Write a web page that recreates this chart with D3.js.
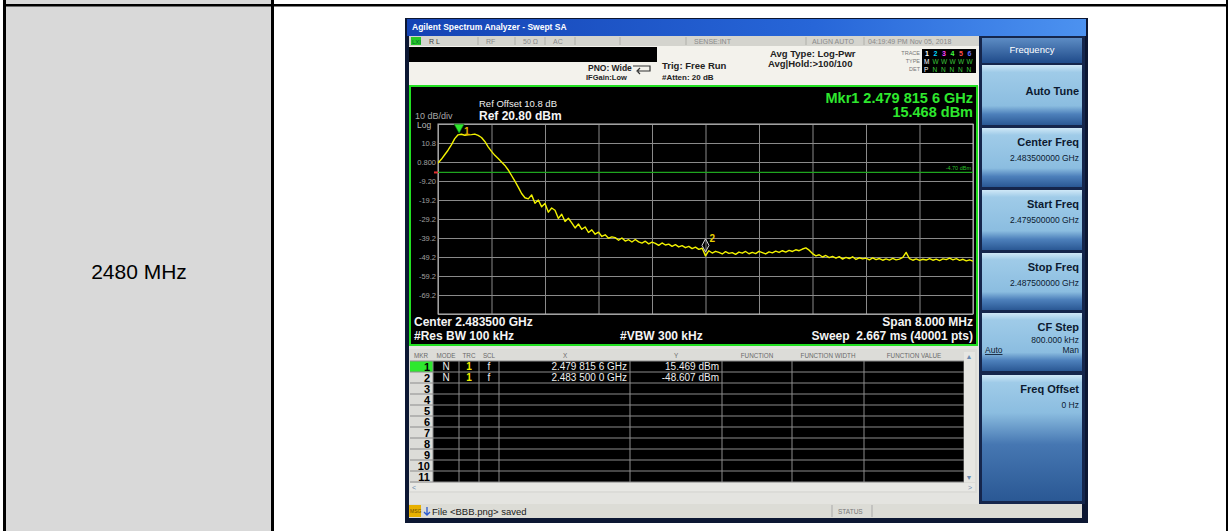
<!DOCTYPE html>
<html><head><meta charset="utf-8">
<script src="https://cdn.jsdelivr.net/npm/d3@7"></script>
<style>body{margin:0;background:#fff}svg{display:block;font-family:"Liberation Sans",Arial,sans-serif}</style>
</head><body><svg id="c" width="1229" height="531"></svg>
<script>
// ---------------- data ----------------
const rowLabel = "2480 MHz";
const startFreqGHz = 2.4795, stopFreqGHz = 2.4875;
const refLevelDbm = 20.8, bottomLevelDbm = -79.2;
const yTickValues = [10.8, 0.8, -9.2, -19.2, -29.2, -39.2, -49.2, -59.2, -69.2];
const yTickLabels = ["10.8", "0.800", "-9.20", "-19.2", "-29.2", "-39.2", "-49.2", "-59.2", "-69.2"];
const yGridValues = [20.8, 10.8, 0.8, -9.2, -19.2, -29.2, -39.2, -49.2, -59.2, -69.2, -79.2];
const xGridFreqsGHz = [2.4795, 2.4803, 2.4811, 2.4819, 2.4827, 2.4835, 2.4843, 2.4851, 2.4859, 2.4867, 2.4875];
const displayLineDbm = -4.70;
const traceStepMHz = 0.05;
const traceDbm = [
  0.3, 2.2, 4.6, 7.0, 9.8, 13.1, 15.1, 15.4, 14.9, 15.1,
  15.2, 15.5, 14.8, 13.7, 11.6, 8.8, 6.4, 4.3, 2.6, 0.8,
  -1.0, -3.4, -6.3, -9.3, -12.4, -15.8, -18.0, -18.6, -16.5, -20.9,
  -19.2, -22.8, -21.0, -25.6, -23.4, -24.6, -28.9, -26.7, -30.5, -28.8,
  -31.2, -33.9, -31.8, -34.6, -33.4, -36.3, -34.9, -37.2, -36.1, -38.4,
  -37.5, -39.3, -38.6, -39.0, -40.4, -39.2, -40.8, -40.1, -41.3, -40.0,
  -41.2, -41.9, -40.9, -42.3, -41.4, -42.0, -43.1, -41.8, -42.9, -42.4,
  -43.6, -42.7, -43.9, -43.2, -44.3, -43.6, -44.8, -44.0, -45.2, -44.6,
  -48.6, -45.9, -47.1, -46.2, -46.8, -47.6, -46.4, -47.3, -46.9, -47.8,
  -46.6, -47.2, -46.3, -47.5, -46.8, -47.4, -46.2, -46.9, -47.6, -46.5,
  -47.0, -46.1, -46.8, -45.9, -46.6, -45.7, -46.3, -45.4, -45.9, -45.0,
  -44.4, -45.6, -47.4, -48.6, -48.0, -49.2, -48.4, -49.5, -48.9, -49.8,
  -49.0, -50.3, -49.4, -50.0, -49.1, -50.5, -49.6, -50.2, -49.8, -50.7,
  -49.7, -50.6, -50.0, -50.9, -50.2, -50.8, -49.9, -50.7, -50.3, -49.4,
  -46.8, -50.1, -50.9, -50.2, -51.0, -50.4, -50.8, -50.0, -50.9, -50.3,
  -51.1, -50.2, -50.6, -49.8, -50.7, -50.1, -51.0, -50.4, -51.2, -50.7,
  -51.4
];
const markerIds = [1, 2];
const markerFreqGHz = [2.4798156, 2.4835];
const markerDbm = [15.468, -48.6];
const mkrHeaders = ["MKR", "MODE", "TRC", "SCL", "X", "Y", "FUNCTION", "FUNCTION WIDTH", "FUNCTION VALUE"];
const mkrRows = [
  ["1", "N", "1", "f", "2.479 815 6 GHz", "15.469 dBm"],
  ["2", "N", "1", "f", "2.483 500 0 GHz", "-48.607 dBm"]
];
const mkrRowCount = 11;
const softkeyLabels = ["Auto Tune", "Center Freq", "Start Freq", "Stop Freq", "CF Step", "Freq Offset"];
const softkeyValues = ["", "2.483500000 GHz", "2.479500000 GHz", "2.487500000 GHz", "800.000 kHz", "0 Hz"];

// ---------------- drawing ----------------
const svg = d3.select("#c");
const defs = svg.append("defs");
function grad(id, stops) {
  const g = defs.append("linearGradient").attr("id", id).attr("x1", 0).attr("y1", 0).attr("x2", 0).attr("y2", 1);
  stops.forEach(s => g.append("stop").attr("offset", s[0]).attr("stop-color", s[1]));
}
grad("key", [[0, "#cfe8f7"], [0.12, "#9fcbe8"], [0.68, "#8bbde0"], [0.82, "#4d80bb"], [1, "#2a5894"]]);
grad("keyTall", [[0, "#cfe8f7"], [0.06, "#9fcbe8"], [0.3, "#8bbde0"], [0.55, "#4677b2"], [1, "#2a5894"]]);
grad("hdr", [[0, "#5d8cc4"], [1, "#1f4b8a"]]);
const tg = defs.append("linearGradient").attr("id", "title");
[[0, "#1443b4"], [0.6, "#2766d8"], [1, "#4c92f0"]].forEach(s => tg.append("stop").attr("offset", s[0]).attr("stop-color", s[1]));

// outer table
svg.append("rect").attr("x", 6).attr("y", 0).attr("width", 265).attr("height", 531).attr("fill", "#d9d9d9");
svg.append("rect").attr("x", 3).attr("y", 4).attr("width", 1225).attr("height", 2.5).attr("fill", "#000");
svg.append("rect").attr("x", 3).attr("y", 0).attr("width", 3).attr("height", 531).attr("fill", "#000");
svg.append("rect").attr("x", 271).attr("y", 0).attr("width", 3).attr("height", 531).attr("fill", "#000");
svg.append("rect").attr("x", 1226).attr("y", 0).attr("width", 2).attr("height", 531).attr("fill", "#000");
svg.append("text").attr("x", 139).attr("y", 279).attr("text-anchor", "middle")
  .attr("font-size", 21).attr("fill", "#000").text(rowLabel);

// screenshot frame
svg.append("rect").attr("x", 405).attr("y", 18).attr("width", 683).attr("height", 505).attr("fill", "#0c1733");
svg.append("rect").attr("x", 407).attr("y", 19).attr("width", 679).attr("height", 17).attr("fill", "url(#title)");
svg.append("text").attr("x", 412).attr("y", 30).attr("font-size", 8.5).attr("font-weight", "bold")
  .attr("fill", "#fff").text("Agilent Spectrum Analyzer - Swept SA");
svg.append("rect").attr("x", 409).attr("y", 36).attr("width", 570).attr("height", 470).attr("fill", "#e4e4e0");
// status row
svg.append("rect").attr("x", 409).attr("y", 36).attr("width", 570).attr("height", 10).attr("fill", "#d4d4ce");
svg.append("rect").attr("x", 411).attr("y", 37).attr("width", 10).attr("height", 8).attr("fill", "#28c828");
svg.append("text").attr("x", 412).attr("y", 44).attr("font-size", 6).attr("fill", "#063").text("LXI");
const statusItems = [["R L", 429], ["RF", 486], ["50 Ω", 523], ["AC", 553], ["SENSE:INT", 694], ["ALIGN AUTO", 812], ["04:19:49 PM Nov 05, 2018", 868]];
statusItems.forEach(s => svg.append("text").attr("x", s[1]).attr("y", 44).attr("font-size", 7)
  .attr("fill", s[0] === "R L" ? "#404040" : "#8a8a8a").text(s[0]));
[478, 515, 545, 575, 620, 686, 806, 864].forEach(xx => svg.append("line").attr("x1", xx).attr("x2", xx)
  .attr("y1", 37).attr("y2", 45).attr("stroke", "#b0b0aa"));
// settings area
svg.append("rect").attr("x", 409).attr("y", 46).attr("width", 570).attr("height", 40).attr("fill", "#f3f2ec");
svg.append("rect").attr("x", 409).attr("y", 47).attr("width", 248).attr("height", 15).attr("fill", "#000");
const settings = [["PNO: Wide", 588, 71, 8.5], ["IFGain:Low", 586, 80, 7.5], ["Trig: Free Run", 662, 69, 9.5],
  ["#Atten: 20 dB", 662, 80, 8], ["Avg Type: Log-Pwr", 770, 57, 9.5], ["Avg|Hold:>100/100", 768, 67, 9.5]];
settings.forEach(s => svg.append("text").attr("x", s[1]).attr("y", s[2]).attr("font-size", s[3])
  .attr("font-weight", "bold").attr("fill", "#222").text(s[0]));
svg.append("path").attr("d", "M633,66 h17 v5 h-12 M640,68 l-3,3 l3,3").attr("fill", "none").attr("stroke", "#333").attr("stroke-width", 1.2);
// trace indicator
svg.append("text").attr("x", 920).attr("y", 55).attr("text-anchor", "end").attr("font-size", 5.5).attr("fill", "#777").text("TRACE");
svg.append("text").attr("x", 920).attr("y", 63).attr("text-anchor", "end").attr("font-size", 5.5).attr("fill", "#777").text("TYPE");
svg.append("text").attr("x", 920).attr("y", 71).attr("text-anchor", "end").attr("font-size", 5.5).attr("fill", "#777").text("DET");
svg.append("rect").attr("x", 922).attr("y", 49).attr("width", 54).attr("height", 24).attr("fill", "#000");
const trColors = ["#ffffff", "#00d8ff", "#ff40ff", "#40ff40", "#ff5050", "#6070ff"];
["1", "2", "3", "4", "5", "6"].forEach((t, i) => svg.append("text").attr("x", 925 + i * 8.5).attr("y", 56)
  .attr("font-size", 7).attr("font-weight", "bold").attr("fill", trColors[i]).text(t));
["M", "W", "W", "W", "W", "W"].forEach((t, i) => svg.append("text").attr("x", 924 + i * 8.5).attr("y", 64)
  .attr("font-size", 6.5).attr("fill", i === 0 ? "#fff" : "#3cc83c").text(t));
["P", "N", "N", "N", "N", "N"].forEach((t, i) => svg.append("text").attr("x", 924 + i * 8.5).attr("y", 72)
  .attr("font-size", 6.5).attr("fill", i === 0 ? "#fff" : "#3cc83c").text(t));

// graph panel
svg.append("rect").attr("x", 410).attr("y", 86).attr("width", 567).attr("height", 259)
  .attr("fill", "#000").attr("stroke", "#22e022").attr("stroke-width", 2);
const x = d3.scaleLinear().domain([startFreqGHz, stopFreqGHz]).range([438, 973]);
const y = d3.scaleLinear().domain([bottomLevelDbm, refLevelDbm]).range([314, 124]);
const gx = svg.append("g").attr("transform", "translate(0,314)")
  .call(d3.axisBottom(x).tickValues(xGridFreqsGHz).tickSize(-190).tickFormat(""));
gx.select(".domain").remove();
gx.selectAll("line").attr("stroke", "#8a8a8a");
const gy = svg.append("g").attr("transform", "translate(438,0)")
  .call(d3.axisLeft(y).tickValues(yGridValues).tickSize(-535).tickFormat(""));
gy.select(".domain").remove();
gy.selectAll("line").attr("stroke", "#8a8a8a");
svg.append("rect").attr("x", 438).attr("y", 124).attr("width", 535).attr("height", 190)
  .attr("fill", "none").attr("stroke", "#b8b8b8");
const ay = svg.append("g").attr("transform", "translate(437,0)")
  .call(d3.axisLeft(y).tickValues(yTickValues).tickSize(0).tickPadding(1).tickFormat((d, i) => yTickLabels[i]));
ay.select(".domain").remove();
ay.selectAll("text").attr("font-size", 7.5).attr("fill", "#a0a0a0").attr("font-family", "Liberation Sans, Arial, sans-serif");
// display line
svg.append("line").attr("x1", 438).attr("x2", 973).attr("y1", y(displayLineDbm)).attr("y2", y(displayLineDbm))
  .attr("stroke", "#1fa51f").attr("stroke-width", 1.3);
svg.append("text").attr("x", 971).attr("y", y(displayLineDbm) - 2).attr("text-anchor", "end")
  .attr("font-size", 5.5).attr("fill", "#2bbf2b").text("-4.70 dBm");
svg.append("rect").attr("x", 434).attr("y", y(displayLineDbm) - 1).attr("width", 4).attr("height", 2).attr("fill", "#e03030");
// labels
svg.append("text").attr("x", 415).attr("y", 119).attr("font-size", 9).attr("fill", "#a8a8a8").text("10 dB/div");
svg.append("text").attr("x", 417).attr("y", 128).attr("font-size", 8.5).attr("fill", "#b8b8b8").text("Log");
svg.append("text").attr("x", 479).attr("y", 107).attr("font-size", 9.5).attr("fill", "#f0f0f0").text("Ref Offset 10.8 dB");
svg.append("text").attr("x", 479).attr("y", 120).attr("font-size", 12).attr("font-weight", "bold").attr("fill", "#f4f4f4").text("Ref 20.80 dBm");
svg.append("text").attr("x", 973).attr("y", 103).attr("text-anchor", "end").attr("font-size", 14.5)
  .attr("font-weight", "bold").attr("fill", "#2ee82e").text("Mkr1 2.479 815 6 GHz");
svg.append("text").attr("x", 973).attr("y", 117).attr("text-anchor", "end").attr("font-size", 14.5)
  .attr("font-weight", "bold").attr("fill", "#2ee82e").text("15.468 dBm");
// trace
const tracePts = traceDbm.map((v, i) => [startFreqGHz + i * traceStepMHz / 1000, v]);
svg.append("clipPath").attr("id", "gclip").append("rect").attr("x", 438).attr("y", 124).attr("width", 535).attr("height", 190);
svg.append("path").attr("clip-path", "url(#gclip)").attr("d", d3.line().x(d => x(d[0])).y(d => y(d[1]))(tracePts))
  .attr("fill", "none").attr("stroke", "#f2f200").attr("stroke-width", 1.4).attr("stroke-linejoin", "round");
// markers
{
  const mx = x(markerFreqGHz[0]), my = y(markerDbm[0]);
  svg.append("path").attr("d", `M${mx - 5},${my - 10} h10 l-5,9 z`).attr("fill", "#2ee82e").attr("stroke", "#0a6a0a").attr("stroke-width", 0.6);
  svg.append("text").attr("x", mx + 5).attr("y", my + 1).attr("font-size", 10).attr("font-weight", "bold")
    .attr("fill", "#e8b400").text(markerIds[0]);
  const m2x = x(markerFreqGHz[1]), m2y = y(markerDbm[1]);
  svg.append("path").attr("d", `M${m2x},${m2y - 17} l3.5,6.5 l-3.5,6.5 l-3.5,-6.5 z`).attr("fill", "none")
    .attr("stroke", "#d8d8d8").attr("stroke-width", 1);
  svg.append("text").attr("x", m2x + 4).attr("y", m2y - 14).attr("font-size", 10).attr("font-weight", "bold")
    .attr("fill", "#e8d000").text(markerIds[1]);
}
// bottom annotations
const annot = [["Center 2.483500 GHz", 414, 326, "start"], ["#Res BW 100 kHz", 414, 340, "start"], ["#VBW 300 kHz", 620, 340, "start"],
  ["Span 8.000 MHz", 973, 326, "end"], ["Sweep  2.667 ms (40001 pts)", 973, 340, "end"]];
annot.forEach(a => svg.append("text").attr("x", a[1]).attr("y", a[2]).attr("text-anchor", a[3]).attr("font-size", 12)
  .attr("font-weight", "bold").attr("fill", "#f4f4f4").style("white-space", "pre").text(a[0]));

// marker table
const colX = [410, 433, 459, 479, 499, 630, 722, 792, 864, 964];
const hdrCx = [421, 446, 469, 489, 565, 676, 757, 828, 914];
const tTop = 361, rowH = 11;
svg.append("rect").attr("x", 409).attr("y", 349).attr("width", 568).attr("height", 144).attr("fill", "#dcdcd8");
mkrHeaders.forEach((h, i) => svg.append("text").attr("x", hdrCx[i]).attr("y", 358).attr("text-anchor", "middle")
  .attr("font-size", 6.3).attr("fill", "#6a6a6a").text(h));
svg.append("rect").attr("x", colX[1]).attr("y", tTop).attr("width", colX[9] - colX[1]).attr("height", rowH * mkrRowCount).attr("fill", "#000");
svg.append("rect").attr("x", colX[0]).attr("y", tTop).attr("width", colX[1] - colX[0]).attr("height", rowH).attr("fill", "#2ee82e");
d3.range(mkrRowCount + 1).forEach(r => svg.append("line").attr("x1", colX[0]).attr("x2", colX[9])
  .attr("y1", tTop + r * rowH).attr("y2", tTop + r * rowH).attr("stroke", "#8c8c8c"));
colX.slice(1).forEach(cx => svg.append("line").attr("x1", cx).attr("x2", cx).attr("y1", tTop)
  .attr("y2", tTop + rowH * mkrRowCount).attr("stroke", "#8c8c8c"));
d3.range(mkrRowCount).forEach(r => svg.append("text").attr("x", 430).attr("y", tTop + r * rowH + 9.5)
  .attr("text-anchor", "end").attr("font-size", 11).attr("font-weight", "bold").attr("fill", "#000").text(r + 1));
mkrRows.forEach((row, r) => {
  const by = tTop + r * rowH + 9;
  svg.append("text").attr("x", 446).attr("y", by).attr("text-anchor", "middle").attr("font-size", 10).attr("fill", "#eee").text(row[1]);
  svg.append("text").attr("x", 469).attr("y", by).attr("text-anchor", "middle").attr("font-size", 10).attr("font-weight", "bold").attr("fill", "#f0f000").text(row[2]);
  svg.append("text").attr("x", 489).attr("y", by).attr("text-anchor", "middle").attr("font-size", 10).attr("fill", "#eee").text(row[3]);
  svg.append("text").attr("x", 627).attr("y", by).attr("text-anchor", "end").attr("font-size", 10).attr("fill", "#eee").text(row[4]);
  svg.append("text").attr("x", 719).attr("y", by).attr("text-anchor", "end").attr("font-size", 10).attr("fill", "#eee").text(row[5]);
});
// scrollbars
svg.append("rect").attr("x", 964).attr("y", tTop - 9).attr("width", 11).attr("height", rowH * mkrRowCount + 9).attr("fill", "#e6e6e2");
svg.append("text").attr("x", 969).attr("y", 359).attr("text-anchor", "middle").attr("font-size", 7).attr("fill", "#6a8ab0").text("▲");
svg.append("text").attr("x", 969).attr("y", tTop + rowH * mkrRowCount - 2).attr("text-anchor", "middle").attr("font-size", 7).attr("fill", "#6a8ab0").text("▼");
svg.append("rect").attr("x", 410).attr("y", tTop + rowH * mkrRowCount + 1).attr("width", 565).attr("height", 8).attr("fill", "#e8e8e4");
svg.append("text").attr("x", 412).attr("y", tTop + rowH * mkrRowCount + 8).attr("font-size", 7).attr("fill", "#6a8ab0").text("<");
svg.append("text").attr("x", 968).attr("y", tTop + rowH * mkrRowCount + 8).attr("font-size", 7).attr("fill", "#6a8ab0").text(">");

// right soft-key panel
svg.append("rect").attr("x", 979).attr("y", 36).attr("width", 106).attr("height", 468).attr("fill", "#15264c");
svg.append("rect").attr("x", 982).attr("y", 38).attr("width", 100).attr("height", 25).attr("fill", "url(#hdr)");
svg.append("text").attr("x", 1032).attr("y", 53).attr("text-anchor", "middle").attr("font-size", 9.5).attr("fill", "#fff").text("Frequency");
const keyTop = [65, 128, 190, 253, 313, 375], keyBot = [125, 187, 250, 310, 371, 501];
softkeyLabels.forEach((lab, i) => {
  const tall = i === softkeyLabels.length - 1;
  svg.append("rect").attr("x", 982).attr("y", keyTop[i]).attr("width", 100).attr("height", keyBot[i] - keyTop[i])
    .attr("fill", tall ? "url(#keyTall)" : "url(#key)");
  const ty = i === 0 ? keyTop[i] + 30 : keyTop[i] + 18;
  svg.append("text").attr("x", 1079).attr("y", ty).attr("text-anchor", "end").attr("font-size", 11)
    .attr("font-weight", "bold").attr("fill", "#0c1a30").text(lab);
  if (softkeyValues[i]) svg.append("text").attr("x", 1079).attr("y", ty + (i === 4 ? 12 : 15)).attr("text-anchor", "end")
    .attr("font-size", 8.5).attr("fill", "#0c1a30").text(softkeyValues[i]);
});
svg.append("text").attr("x", 985).attr("y", 353).attr("font-size", 8.5).attr("fill", "#0c1a30").attr("text-decoration", "underline").text("Auto");
svg.append("text").attr("x", 1079).attr("y", 353).attr("text-anchor", "end").attr("font-size", 8.5).attr("fill", "#0c1a30").text("Man");

// status bar
svg.append("rect").attr("x", 409).attr("y", 504).attr("width", 673).attr("height", 14).attr("fill", "#dcdcd6");
svg.append("rect").attr("x", 409).attr("y", 505).attr("width", 12).attr("height", 12).attr("fill", "#e8b000");
svg.append("text").attr("x", 410).attr("y", 513).attr("font-size", 5).attr("fill", "#6a4a00").text("MSG");
svg.append("path").attr("d", "M427,507 v8 M424,512 l3,3 l3,-3").attr("fill", "none").attr("stroke", "#2a5ad0").attr("stroke-width", 1.3);
svg.append("text").attr("x", 432).attr("y", 515).attr("font-size", 9.5).attr("fill", "#202020").text("File <BBB.png> saved");
svg.append("line").attr("x1", 832).attr("x2", 832).attr("y1", 505).attr("y2", 517).attr("stroke", "#aaa");
svg.append("text").attr("x", 838).attr("y", 514).attr("font-size", 6.5).attr("fill", "#777").text("STATUS");
svg.append("line").attr("x1", 872).attr("x2", 872).attr("y1", 505).attr("y2", 517).attr("stroke", "#aaa");
</script></body></html>
